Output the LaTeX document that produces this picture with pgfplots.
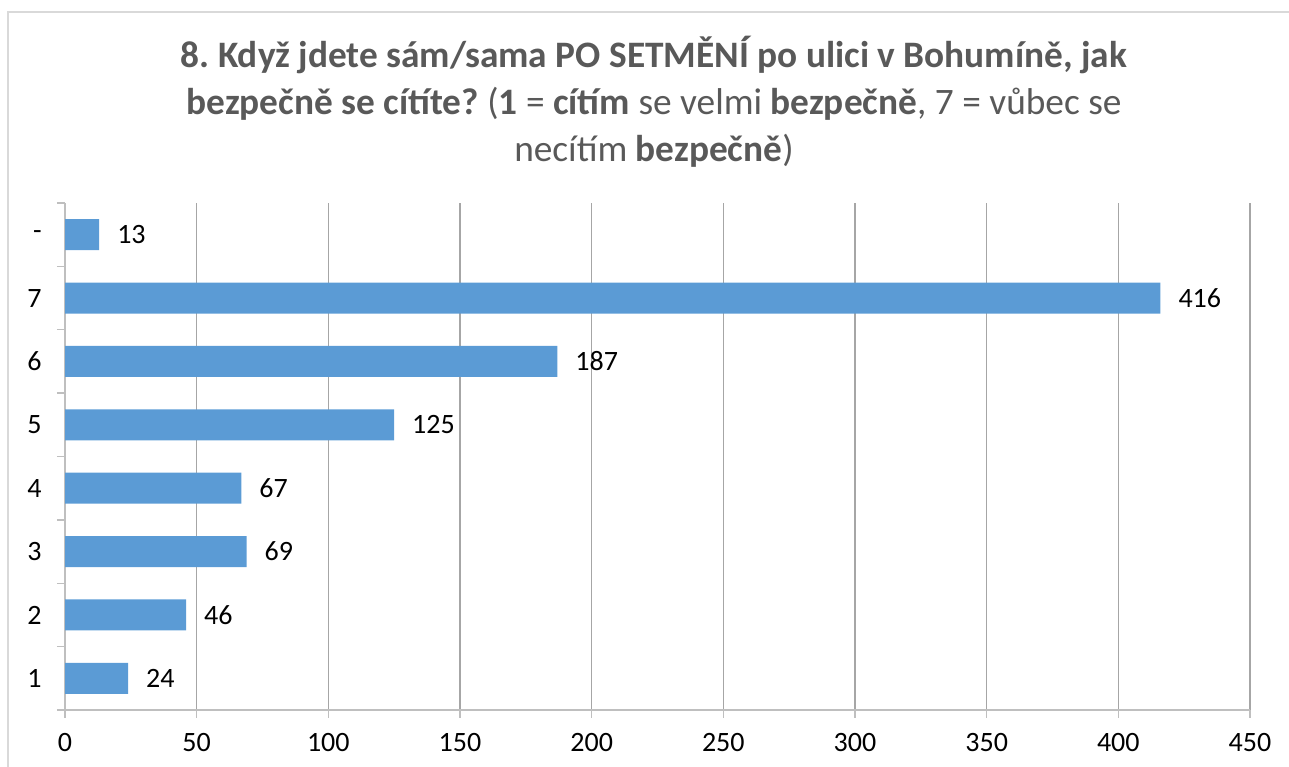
\documentclass[border=0pt]{standalone}
\usepackage{pgfplots}
\pgfplotsset{compat=1.18}
\usepackage{fontspec}
\setmainfont{Carlito}
\frenchspacing
\definecolor{barblue}{HTML}{5B9BD5}
\definecolor{titlegray}{HTML}{595959}
\definecolor{gridgray}{HTML}{A6A6A6}
\definecolor{axisgray}{HTML}{BFBFBF}
\definecolor{bordergray}{HTML}{D9D9D9}
\begin{document}
\frenchspacing
\begin{tikzpicture}
\path[use as bounding box] (0,0) rectangle (966.75pt,575.25pt);
\draw[bordergray, line width=1pt] (6pt,0) -- (6pt,566.25pt) -- (966.75pt,566.25pt);
\node[anchor=base, text=titlegray, font=\fontsize{28pt}{32pt}\selectfont] at (490.5pt,524.25pt)
  {\textbf{8. Když jdete sám/sama PO SETMĚNÍ po ulici v Bohumíně, jak}};
\node[anchor=base, text=titlegray, font=\fontsize{28pt}{32pt}\selectfont] at (490.5pt,489pt)
  {\textbf{bezpečně se cítíte?} (\textbf{1} = \textbf{cítím} se velmi \textbf{bezpečně}, 7 = vůbec se};
\node[anchor=base, text=titlegray, font=\fontsize{28pt}{32pt}\selectfont] at (490.5pt,453.75pt)
  {necítím \textbf{bezpečně})};
\begin{axis}[
  at={(48.75pt,42.75pt)}, anchor=south west,
  scale only axis,
  width=888.75pt, height=380.25pt,
  xbar, bar width=23.25pt,
  xmin=0, xmax=450,
  ymin=-0.5, ymax=7.5,
  xtick={0,50,...,450},
  ytick={0,...,7},
  yticklabels={1,2,3,4,5,6,7,-},
  minor ytick={-0.5,0.5,...,7.5},
  tick align=outside,
  major tick length=6pt,
  minor tick length=6pt,
  major y tick style={draw=none},
  minor y tick style={axisgray, line width=1pt},
  major x tick style={axisgray, line width=1pt},
  xmajorgrids,
  major grid style={gridgray, line width=0.8pt},
  axis x line*=bottom,
  axis y line*=left,
  axis line style={axisgray, line width=1.2pt, -},
  ticklabel style={font=\fontsize{21pt}{24pt}\selectfont},
  /pgf/number format/assume math mode=true,
  yticklabel style={anchor=east, xshift=-8pt},
  xticklabel style={yshift=-8pt},
  nodes near coords,
  nodes near coords style={font=\fontsize{21pt}{24pt}\selectfont, anchor=west, xshift=10pt, text=black},
  clip=false,
]
\addplot[fill=barblue, draw=none] coordinates {
(24,0) (46,1) (69,2) (67,3) (125,4) (187,5) (416,6) (13,7)
};
\end{axis}
\end{tikzpicture}
\end{document}
